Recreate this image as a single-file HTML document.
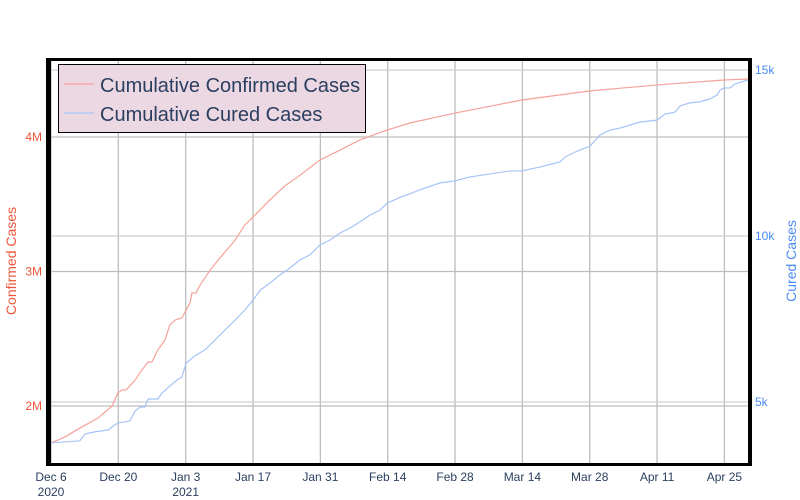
<!DOCTYPE html>
<html><head><meta charset="utf-8"><style>
html,body{margin:0;padding:0;background:#fff;width:800px;height:500px;overflow:hidden}
svg{display:block;font-family:"Liberation Sans",sans-serif}
</style></head><body>
<svg id="chart" width="800" height="500"></svg>
<script>
const xTickDays=[0,14,28,42,56,70,84,98,112,126,140];
const xTickLabels=["Dec 6","Dec 20","Jan 3","Jan 17","Jan 31","Feb 14","Feb 28","Mar 14","Mar 28","Apr 11","Apr 25"];
const xTickYears=["2020","","2021","","","","","","","",""];
const leftTicks=[2,3,4];
const leftTickLabels=["2M","3M","4M"];
const rightTicks=[5,10,15];
const rightTickLabels=["5k","10k","15k"];
const confirmedDays=[0,2.9,6.0,9.8,12.7,13.9,14.8,15.6,17.5,18.9,20.2,21.0,22.2,23.7,24.7,25.8,27.2,28.1,28.9,29.3,30.1,31.0,33.1,35.1,38.3,40.3,42.0,45.5,48.6,51.8,55.9,60.1,64.2,69.9,74.6,84.0,97.9,111.9,126.0,139.9,144.9];
const confirmedValues=[1.725,1.77,1.836,1.911,2.0,2.097,2.119,2.119,2.193,2.268,2.327,2.327,2.416,2.491,2.602,2.639,2.654,2.714,2.766,2.84,2.84,2.9,3.011,3.1,3.234,3.346,3.405,3.532,3.636,3.717,3.829,3.903,3.978,4.052,4.104,4.178,4.275,4.342,4.387,4.424,4.431];
const curedDays=[0,6.0,7.1,9.1,11.9,12.7,13.9,15.4,16.4,17.5,18.5,19.5,20.2,22.2,23.1,24.7,26.4,27.2,28.1,29.9,32.0,34.1,36.2,38.3,40.3,42.0,43.5,45.5,47.6,49.7,51.8,53.8,55.9,58.0,60.1,62.2,64.2,66.3,68.4,69.9,72.6,74.6,76.7,80.9,84.0,87.1,91.3,95.4,97.9,101.7,105.8,106.9,109.0,110.0,112.1,114.1,116.2,118.3,122.4,126.0,127.6,129.7,130.8,132.8,134.9,137.0,138.5,139.1,139.9,141.2,142.2,144.9];
const curedValues=[3.77,3.83,4.04,4.10,4.16,4.25,4.37,4.40,4.43,4.73,4.85,4.85,5.09,5.09,5.27,5.48,5.69,5.75,6.17,6.39,6.57,6.87,7.17,7.47,7.77,8.07,8.37,8.58,8.83,9.04,9.28,9.43,9.73,9.88,10.09,10.24,10.42,10.63,10.78,10.99,11.17,11.27,11.39,11.60,11.66,11.78,11.87,11.96,11.96,12.08,12.23,12.38,12.53,12.59,12.71,13.04,13.19,13.25,13.43,13.49,13.67,13.73,13.92,14.01,14.04,14.13,14.25,14.40,14.46,14.46,14.58,14.70];

const NS="http://www.w3.org/2000/svg";
const svg=document.getElementById('chart');
const X0=49,X1=750,Y0=60,Y1=464;
const xPx=d=>51+d*4.81;
const yL=v=>406-(v-2)*134.5;
const yR=k=>402-(k-5)*33.2;
function mk(tag,attrs,parent){const e=document.createElementNS(NS,tag);for(const k in attrs)e.setAttribute(k,attrs[k]);(parent||svg).appendChild(e);return e;}

const grid=mk('g',{});


xTickDays.forEach((d,i)=>{
  const l=mk('line',{x1:xPx(d),x2:xPx(d),y1:Y0,y2:Y1,stroke:'#bdbdbd','stroke-width':1.3},grid);
  
  
  const t=mk('text',{x:xPx(d),y:481,'text-anchor':'middle','font-size':12,fill:'#2a3f5f'});
  t.textContent=xTickLabels[i];
  
  
  if(xTickYears[i]){const y=mk('text',{x:xPx(d),y:496,'text-anchor':'middle','font-size':12,fill:'#2a3f5f'});y.textContent=xTickYears[i];
  
  }
});
leftTicks.forEach((v,i)=>{
  const l=mk('line',{x1:X0,x2:X1,y1:yL(v),y2:yL(v),stroke:'#bdbdbd','stroke-width':1.3},grid);
  
  
  const t=mk('text',{x:42,y:yL(v)+4,'text-anchor':'end','font-size':12,fill:'#ef553b'});
  t.textContent=leftTickLabels[i];
  
  
});
rightTicks.forEach((v,i)=>{
  const l=mk('line',{x1:X0,x2:X1,y1:yR(v),y2:yR(v),stroke:'#cfcfcf','stroke-width':1.3},grid);
  
  
  const t=mk('text',{x:755,y:yR(v)+4,'text-anchor':'start','font-size':12,fill:'#4a8cf5'});
  t.textContent=rightTickLabels[i];
  
  
});

const cLine=mk('polyline',{points:confirmedDays.map((d,i)=>xPx(d)+','+yL(confirmedValues[i])).join(' '),fill:'none',stroke:'#f5a29b','stroke-width':1.2});


const rLine=mk('polyline',{points:curedDays.map((d,i)=>xPx(d)+','+yR(curedValues[i])).join(' '),fill:'none',stroke:'#a6c3f7','stroke-width':1.2});



const frame=mk('g',{});


mk('rect',{x:46,y:58,width:5,height:408,fill:'#000'},frame);
mk('rect',{x:748,y:58,width:4,height:408,fill:'#000'},frame);
mk('rect',{x:46,y:58,width:706,height:3,fill:'#000'},frame);
mk('rect',{x:46,y:463,width:706,height:3,fill:'#000'},frame);

const lt=mk('text',{x:0,y:0,transform:'translate(16,261) rotate(-90)','text-anchor':'middle','font-size':14,fill:'#ef553b'});
lt.textContent='Confirmed Cases';


const rt=mk('text',{x:0,y:0,transform:'translate(796,261) rotate(-90)','text-anchor':'middle','font-size':14,fill:'#4a8cf5'});
rt.textContent='Cured Cases';



const lg=mk('g',{});


mk('rect',{x:58.5,y:64.5,width:307,height:68,fill:'#ecd8e3',stroke:'#000','stroke-width':1},lg);
mk('line',{x1:64,x2:94,y1:84,y2:84,stroke:'#f5a29b','stroke-width':1.2},lg);
mk('line',{x1:64,x2:94,y1:113,y2:113,stroke:'#a6c3f7','stroke-width':1.2},lg);
const e1=mk('text',{x:100,y:92,'font-size':20,fill:'#2a3f5f'},lg);
e1.textContent='Cumulative Confirmed Cases';


const e2=mk('text',{x:100,y:121,'font-size':20,fill:'#2a3f5f'},lg);
e2.textContent='Cumulative Cured Cases';


</script>
</body></html>
